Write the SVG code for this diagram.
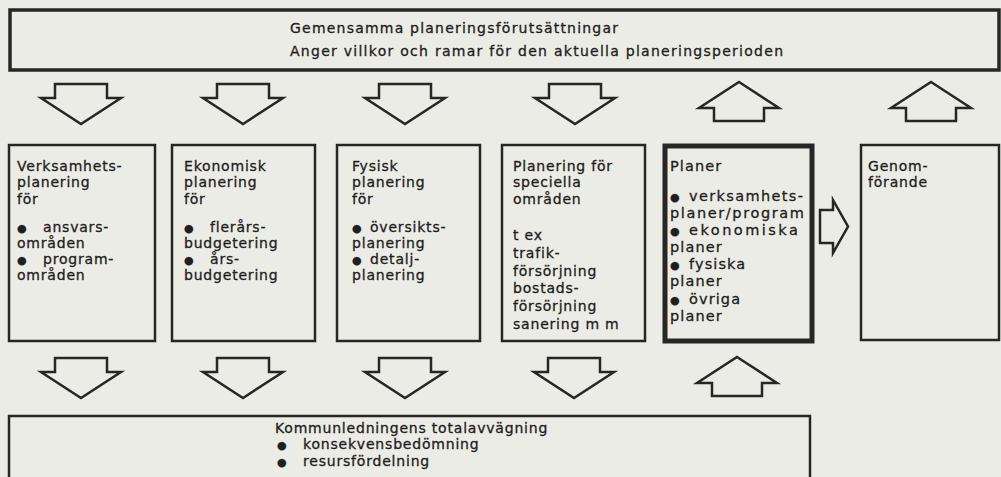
<svg xmlns="http://www.w3.org/2000/svg" xmlns:xlink="http://www.w3.org/1999/xlink" width="1001" height="477" viewBox="0 0 1001 477">
<style>
  .bg { fill: #ecece6; }
  .box { fill: none; stroke: #262626; stroke-width: 2.5; }
  .top { stroke-width: 3.5; }
  .thick { stroke-width: 5; }
  .arrow { fill: none; stroke: #262626; stroke-width: 2.5; stroke-linejoin: miter; }
  text { font-family: "DejaVu Sans", "Liberation Sans", sans-serif; font-size: 14px; letter-spacing: 0.8px; fill: #1e1e1e; stroke: #1e1e1e; stroke-width: 0.3px; }
  .head { letter-spacing: 0; }
  .p5 { font-size: 14.5px; letter-spacing: 1.1px; }
  .bul { font-size: 11px; letter-spacing: 0; }
</style>
<defs>
  <path id="down" d="M-26,0 H26 V14 H40 L0,40 L-40,14 H-26 Z"/>
  <path id="up" d="M0,0 L40,26 H25 V39 H-25 V26 H-40 Z"/>
</defs>
<rect class="bg" x="0" y="0" width="1001" height="477"/>

<g id="forutsattningar">
  <rect class="box top" x="10" y="10" width="989" height="60"/>
  <text class="head" x="290" y="33" textLength="328" lengthAdjust="spacing">Gemensamma planeringsförutsättningar</text>
  <text class="head" x="290" y="56" textLength="493" lengthAdjust="spacing">Anger villkor och ramar för den aktuella planeringsperioden</text>
</g>

<g id="verksamhetsplanering">
  <rect class="box" x="9" y="145" width="146" height="196"/>
  <text x="17" y="171">Verksamhets-</text>
  <text x="17" y="187">planering</text>
  <text x="17" y="204">för</text>
  <text x="17" y="232"><tspan class="bul">●</tspan><tspan x="43">ansvars-</tspan></text>
  <text x="17" y="248">områden</text>
  <text x="17" y="264"><tspan class="bul">●</tspan><tspan x="43">program-</tspan></text>
  <text x="17" y="280">områden</text>
</g>

<g id="ekonomisk">
  <rect class="box" x="172" y="145" width="143" height="196"/>
  <text x="184" y="171">Ekonomisk</text>
  <text x="184" y="187">planering</text>
  <text x="184" y="204">för</text>
  <text x="184" y="232"><tspan class="bul">●</tspan><tspan x="210">flerårs-</tspan></text>
  <text x="184" y="248">budgetering</text>
  <text x="184" y="264"><tspan class="bul">●</tspan><tspan x="210">års-</tspan></text>
  <text x="184" y="280">budgetering</text>
</g>

<g id="fysisk">
  <rect class="box" x="337" y="145" width="143" height="196"/>
  <text x="352" y="171">Fysisk</text>
  <text x="352" y="187">planering</text>
  <text x="352" y="204">för</text>
  <text x="352" y="232"><tspan class="bul">●</tspan><tspan x="370">översikts-</tspan></text>
  <text x="352" y="248">planering</text>
  <text x="352" y="264"><tspan class="bul">●</tspan><tspan x="370">detalj-</tspan></text>
  <text x="352" y="280">planering</text>
</g>

<g id="speciella">
  <rect class="box" x="502" y="145" width="143" height="196"/>
  <text x="513" y="171">Planering för</text>
  <text x="513" y="187">speciella</text>
  <text x="513" y="204">områden</text>
  <text x="513" y="240">t ex</text>
  <text x="513" y="258">trafik-</text>
  <text x="513" y="276">försörjning</text>
  <text x="513" y="293">bostads-</text>
  <text x="513" y="311">försörjning</text>
  <text x="513" y="329">sanering m m</text>
</g>

<g id="planer">
  <rect class="box thick" x="665" y="146" width="147" height="195"/>
  <text class="p5" x="670" y="171">Planer</text>
  <text class="p5" x="670" y="201"><tspan class="bul">●</tspan><tspan x="689" textLength="115" lengthAdjust="spacing">verksamhets-</tspan></text>
  <text class="p5" x="670" y="218" textLength="135" lengthAdjust="spacing">planer/program</text>
  <text class="p5" x="670" y="235"><tspan class="bul">●</tspan><tspan x="689" textLength="110" lengthAdjust="spacing">ekonomiska</tspan></text>
  <text class="p5" x="670" y="252">planer</text>
  <text class="p5" x="670" y="269"><tspan class="bul">●</tspan><tspan x="689">fysiska</tspan></text>
  <text class="p5" x="670" y="286">planer</text>
  <text class="p5" x="670" y="304"><tspan class="bul">●</tspan><tspan x="689">övriga</tspan></text>
  <text class="p5" x="670" y="321">planer</text>
</g>

<g id="genomforande">
  <rect class="box" x="861" y="145" width="138" height="195"/>
  <text x="868" y="171">Genom-</text>
  <text x="868" y="187">förande</text>
</g>

<g id="totalavvagning">
  <rect class="box" x="9" y="416" width="801" height="80"/>
  <text x="275" y="433">Kommunledningens totalavvägning</text>
  <text x="277" y="449"><tspan class="bul">●</tspan><tspan x="303">konsekvensbedömning</tspan></text>
  <text x="277" y="466"><tspan class="bul">●</tspan><tspan x="303">resursfördelning</tspan></text>
</g>

<g id="connectors">
  <use xlink:href="#down" class="arrow" x="81" y="84"/>
  <use xlink:href="#down" class="arrow" x="243" y="84"/>
  <use xlink:href="#down" class="arrow" x="405" y="84"/>
  <use xlink:href="#down" class="arrow" x="575" y="84"/>
  <use xlink:href="#up" class="arrow" x="739" y="82"/>
  <use xlink:href="#up" class="arrow" x="931" y="82"/>
  <use xlink:href="#down" class="arrow" x="81" y="358"/>
  <use xlink:href="#down" class="arrow" x="243" y="358"/>
  <use xlink:href="#down" class="arrow" x="405" y="358"/>
  <use xlink:href="#down" class="arrow" x="574" y="358"/>
  <use xlink:href="#up" class="arrow" x="737" y="357"/>
  <path class="arrow" d="M820,210 H833 V200 L848,226.5 L833,253 V243 H820 Z"/>
</g>
</svg>
